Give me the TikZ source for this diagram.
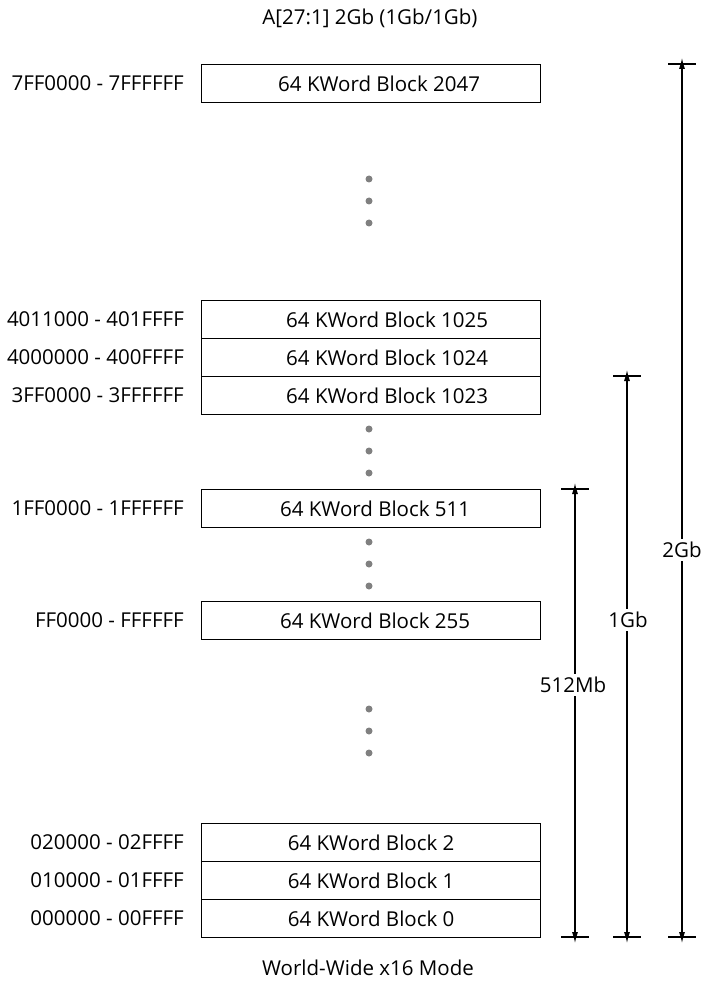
\documentclass[tikz,border=0pt]{standalone}
\usepackage{fontspec}
\setmainfont{Open Sans}
\usetikzlibrary{arrows.meta}
\newcommand\dfont{\fontsize{20.5}{24}\selectfont}
\definecolor{dotgray}{RGB}{128,128,128}
\begin{document}
\begin{tikzpicture}[x=1pt,y=-1pt,
  blk/.style={draw, line width=1.2pt, minimum width=339pt, minimum height=38pt, inner sep=0pt, anchor=north west, font=\dfont},
  pad/.style={execute at begin node={\hspace*{#1}}},
  addr/.style={anchor=east, inner sep=0pt, font=\dfont},
  lbl/.style={inner sep=0pt, font=\dfont},
  tick/.style={line width=1.1pt},
  dim/.style={line width=1.1pt, -{Latex[length=11pt,width=6pt]}},
  gdot/.style={fill=dotgray}
]
\useasboundingbox (0,0) rectangle (701,984);

\node[lbl] (title) at (370,18) {A[27:1] 2Gb (1Gb/1Gb)};
\node[lbl] (foot) at (368,968) {World-Wide x16 Mode};

% blocks
\node[blk, pad=16pt] (b2047) at (201,64) {64 KWord Block 2047};
\node[blk, pad=32pt] (b1025) at (201,300) {64 KWord Block 1025};
\node[blk, pad=32pt] (b1024) at (201,338) {64 KWord Block 1024};
\node[blk, pad=32pt] (b1023) at (201,376) {64 KWord Block 1023};
\node[blk, pad=8pt] (b511) at (201,489) {64 KWord Block 511};
\node[blk, pad=8pt] (b255) at (201,601) {64 KWord Block 255};
\node[blk] (b2) at (201,823) {64 KWord Block 2};
\node[blk] (b1) at (201,861) {64 KWord Block 1};
\node[blk] (b0) at (201,899) {64 KWord Block 0};

% address labels
\node[addr] (a2047) at ([xshift=-17pt]b2047.west) {7FF0000 - 7FFFFFF};
\node[addr] (a1025) at ([xshift=-17pt]b1025.west) {4011000 - 401FFFF};
\node[addr] (a1024) at ([xshift=-17pt]b1024.west) {4000000 - 400FFFF};
\node[addr] (a1023) at ([xshift=-17pt]b1023.west) {3FF0000 - 3FFFFFF};
\node[addr] (a511) at ([xshift=-17pt]b511.west) {1FF0000 - 1FFFFFF};
\node[addr] (a255) at ([xshift=-17pt]b255.west) {FF0000 - FFFFFF};
\node[addr] (a2) at ([xshift=-17pt]b2.west) {020000 - 02FFFF};
\node[addr] (a1) at ([xshift=-17pt]b1.west) {010000 - 01FFFF};
\node[addr] (a0) at ([xshift=-17pt]b0.west) {000000 - 00FFFF};

% dots
\foreach \y in {179,201,223,429,451,473,542,564,586,709,731,753}
  \fill[gdot] (369,\y) circle (3.5);

% dimension ticks
\coordinate (t512) at (575,489);
\coordinate (t1g) at (627,376);
\coordinate (t2g) at (682,64);
\coordinate (u512) at (575,937);
\coordinate (u1g) at (627,937);
\coordinate (u2g) at (682,937);
\foreach \c in {t512,t1g,t2g,u512,u1g,u2g}
  \draw[tick] ([xshift=-14pt]\c) -- ([xshift=14pt]\c);

\node[lbl, fill=white, inner sep=3pt] (l512) at (573,685) {512Mb};
\node[lbl, fill=white, inner sep=3pt] (l1g) at (628,620) {1Gb};
\node[lbl, fill=white, inner sep=3pt] (l2g) at (682,550) {2Gb};

\draw[dim] (l512.north -| t512) -- ([yshift=6pt]t512);
\draw[dim] (l512.south -| t512) -- ([yshift=-6pt]u512);
\draw[dim] (l1g.north -| t1g) -- ([yshift=6pt]t1g);
\draw[dim] (l1g.south -| t1g) -- ([yshift=-6pt]u1g);
\draw[dim] (l2g.north -| t2g) -- ([yshift=6pt]t2g);
\draw[dim] (l2g.south -| t2g) -- ([yshift=-6pt]u2g);
\end{tikzpicture}
\end{document}
